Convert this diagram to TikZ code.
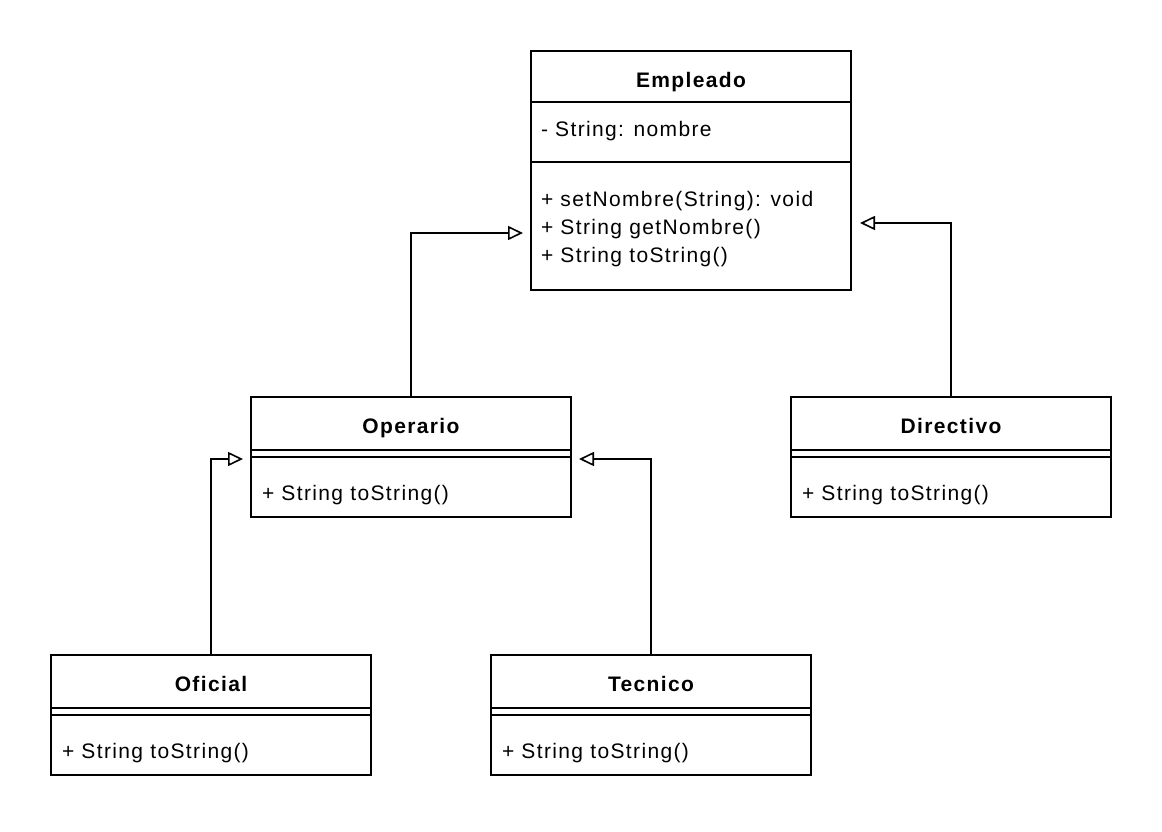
\documentclass[tikz,border=0pt]{standalone}
\usepackage{fontspec}
\setmainfont{Liberation Sans}[LetterSpace=6.5]
\usetikzlibrary{arrows.meta}
\begin{document}
\begin{tikzpicture}[x=1pt,y=-1pt,
  cls/.style={draw=black, line width=2pt, fill=white, inner sep=0pt, outer sep=0pt, minimum width=320pt},
  divline/.style={draw=black, line width=2pt},
  txt/.style={inner sep=0pt, outer sep=0pt, font=\fontsize{21}{28}\selectfont},
  ttl/.style={txt, font=\fontsize{21}{28}\selectfont\bfseries},
  inh/.style={draw=black, line width=2pt, line join=miter, -{Triangle[open, length=15pt, width=14pt, line width=1.6pt, line join=miter]}}
]
\useasboundingbox[fill=white] (0,0) rectangle (1162,832);

% Empleado
\node[cls, minimum height=239pt] (emp) at (691,170.5) {};
\draw[divline] (531,102) -- (851,102);
\draw[divline] (531,162) -- (851,162);
\node[ttl, anchor=base] (empT) at (691,88) {Empleado};
\node[txt, anchor=base west] (empA) at (541,137) {- String: nombre};
\node[txt, anchor=base west] (empM1) at (541,206) {+ setNombre(String): void};
\node[txt, anchor=base west] (empM2) at (541,234) {+ String getNombre()};
\node[txt, anchor=base west] (empM3) at (541,262) {+ String toString()};

% Operario
\node[cls, minimum height=120pt] (ope) at (411,457) {};
\draw[divline] (251,450) -- (571,450);
\draw[divline] (251,457) -- (571,457);
\node[ttl, anchor=base] (opeT) at (411,433) {Operario};
\node[txt, anchor=base west] (opeM) at (262,500) {+ String toString()};

% Directivo
\node[cls, minimum height=120pt] (dir) at (951,457) {};
\draw[divline] (791,450) -- (1111,450);
\draw[divline] (791,457) -- (1111,457);
\node[ttl, anchor=base] (dirT) at (951,433) {Directivo};
\node[txt, anchor=base west] (dirM) at (802,500) {+ String toString()};

% Oficial
\node[cls, minimum height=120pt] (ofi) at (211,715) {};
\draw[divline] (51,708) -- (371,708);
\draw[divline] (51,715) -- (371,715);
\node[ttl, anchor=base] (ofiT) at (211,691) {Oficial};
\node[txt, anchor=base west] (ofiM) at (62,758) {+ String toString()};

% Tecnico
\node[cls, minimum height=120pt] (tec) at (651,715) {};
\draw[divline] (491,708) -- (811,708);
\draw[divline] (491,715) -- (811,715);
\node[ttl, anchor=base] (tecT) at (651,691) {Tecnico};
\node[txt, anchor=base west] (tecM) at (502,758) {+ String toString()};

% arrow end points
\coordinate (tEmpL) at (523,233);
\coordinate (tEmpR) at (860,223);
\coordinate (tOpeL) at (243,459);
\coordinate (tOpeR) at (579,459);

\draw[inh] (ope.north) |- (tEmpL);
\draw[inh] (dir.north) |- (tEmpR);
\draw[inh] (ofi.north) |- (tOpeL);
\draw[inh] (tec.north) |- (tOpeR);
\end{tikzpicture}
\end{document}
